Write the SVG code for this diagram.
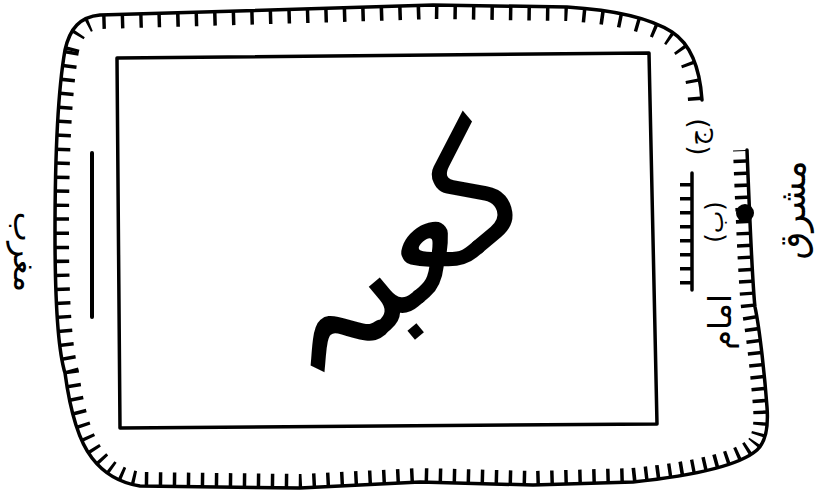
<svg xmlns="http://www.w3.org/2000/svg" width="826" height="499" viewBox="0 0 826 499">
<style>
.ln{fill:none;stroke:#000;stroke-linecap:round;stroke-linejoin:round}
.tk{fill:none;stroke:#000;stroke-width:28}
.ar{font-family:"DejaVu Sans","Noto Sans",sans-serif;fill:#000}
</style>
<defs>
<clipPath id="inside">
<path id="outerClosed" d="M702,100 C700,70 692,45 672,32 C650,18 615,10 567,7 L433,5 C350,8 200,12 100,15 C80,17 70,28 65,50 C58,90 55,150 55,233 C55,300 58,350 65,373 C70,410 78,440 92,458 C105,475 120,483 140,486 L300,488 L420,482 L533,485 L633,482 C700,475 740,465 757,450 C768,440 768,420 767,407 C765,380 760,330 755,307 C752,280 749,200 747,150 Z"/>
</clipPath>
</defs>
<rect width="826" height="499" fill="#fff"/>

<g id="haram-border">
<path class="ln" stroke-width="3.5" d="M702,100 C700,70 692,45 672,32 C650,18 615,10 567,7 L433,5 C350,8 200,12 100,15 C80,17 70,28 65,50 C58,90 55,150 55,233 C55,300 58,350 65,373 C70,410 78,440 92,458 C105,475 120,483 140,486 L300,488 L420,482 L533,485 L633,482 C700,475 740,465 757,450 C768,440 768,420 767,407 C765,380 760,330 755,307 C752,280 749,200 747,150"/>
<g clip-path="url(#inside)">
<path class="tk" stroke-dasharray="3.5 15" d="M702,100 C700,70 692,45 672,32 C650,18 615,10 567,7 L433,5 C350,8 200,12 100,15 C80,17 70,28 65,50"/>
<path class="tk" stroke-dasharray="3.5 10.5" d="M65,50 C58,90 55,150 55,233 C55,300 58,350 65,373 C70,410 78,440 92,458 C105,475 120,483 140,486 L300,488 L420,482 L533,485 L633,482"/>
<path class="tk" stroke-dasharray="3.5 8.5" d="M633,482 C700,475 740,465 757,450 C768,440 768,420 767,407 C765,380 760,330 755,307 C752,280 749,200 747,150"/>
</g>
</g>

<g id="kaaba">
<path class="ln" stroke-width="3.5" d="M117,58 L649,53 L657,424 L120,428 Z"/>
<text class="ar" font-size="160" text-anchor="middle" dominant-baseline="central" transform="translate(392,256) rotate(-40)">کعبہ</text>
</g>

<g id="west-line">
<path class="ln" stroke-width="4" d="M92,153 L92,317"/>
</g>

<g id="inner-ticks">
<path class="ln" stroke-width="3.5" d="M692,173 L692,290"/>
<path fill="none" stroke="#000" stroke-width="12" stroke-dasharray="3.5 10.5" d="M686,183 L686,290"/>
</g>

<g id="imam-dot">
<circle cx="745" cy="213" r="9" fill="#000"/>
</g>

<g id="labels">
<text class="ar" font-size="32" text-anchor="middle" dominant-baseline="central" transform="translate(25,252) rotate(90)">مغرب</text>
<text class="ar" font-size="36" text-anchor="middle" dominant-baseline="central" transform="translate(792,210) rotate(-90)">مشرق</text>
<text class="ar" font-size="26" text-anchor="middle" dominant-baseline="central" transform="translate(697,137) rotate(-90)">(ج)</text>
<text class="ar" font-size="24" text-anchor="middle" dominant-baseline="central" transform="translate(715,222) rotate(-90)">(ب)</text>
<text class="ar" font-size="32" text-anchor="middle" dominant-baseline="central" transform="translate(720,322) rotate(-90)">امام</text>
</g>
</svg>
